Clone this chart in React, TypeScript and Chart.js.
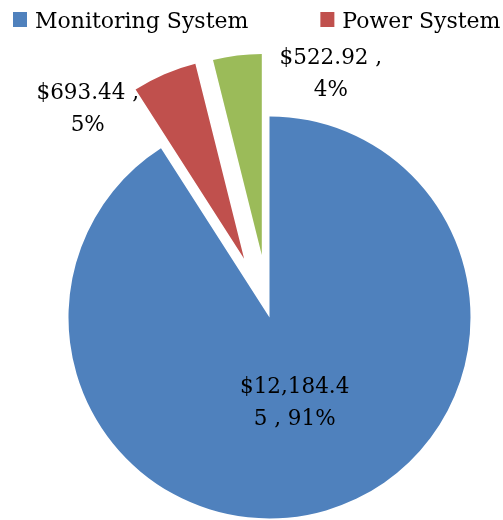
import React, { useEffect, useRef } from 'react';
import { Chart, PieController, ArcElement } from 'chart.js';

Chart.register(PieController, ArcElement);

const categories = ['Monitoring System', 'Power System', 'Other'];
const values = [12184.45, 693.44, 522.92];
const colors = ['#4F81BD', '#C0504D', '#9BBB59'];
const explodePx = [0, 64, 63];

const FONT_FAMILY = '"DejaVu Serif", serif';
const LABEL_SIZE = 21.5;
const LEGEND_SIZE = 22;
const RADIUS = 201;

function fmtMoney(v: number) {
  return '$' + v.toLocaleString('en-US', { minimumFractionDigits: 2, maximumFractionDigits: 2 });
}

function wrap(ctx: CanvasRenderingContext2D, text: string, maxW: number) {
  const words = text.split(' ');
  const lines: string[] = [];
  let cur = '';
  for (const w of words) {
    const trial = cur ? cur + ' ' + w : w;
    if (ctx.measureText(trial).width <= maxW) {
      cur = trial;
      continue;
    }
    if (cur) {
      lines.push(cur);
      cur = '';
    }
    let piece = '';
    for (const ch of w) {
      if (piece && ctx.measureText(piece + ch).width > maxW) {
        lines.push(piece);
        piece = ch;
      } else piece += ch;
    }
    cur = piece;
  }
  if (cur) lines.push(cur);
  return lines;
}

// explode slices: move the slice's vertex outward along its mid angle
const explodeSlices = {
  id: 'explodeSlices',
  afterDatasetUpdate(chart: any, args: any) {
    const meta = chart.getDatasetMeta(args.index);
    meta.data.forEach((arc: any, i: number) => {
      const t = explodePx[i];
      if (!t) return;
      const mid = (arc.startAngle + arc.endAngle) / 2;
      arc.x = arc.x + Math.cos(mid) * t;
      arc.y = arc.y + Math.sin(mid) * t;
    });
  },
};

const dataLabels = {
  id: 'dataLabels',
  afterDatasetsDraw(chart: any) {
    const ctx: CanvasRenderingContext2D = chart.ctx;
    const meta = chart.getDatasetMeta(0);
    const total = values.reduce((a, b) => a + b, 0);
    const place = [
      { turn: 0, dist: 0.445 },
      { turn: -23, dist: 1.075 },
      { turn: 28, dist: 0.96 },
    ];
    ctx.save();
    ctx.font = `${LABEL_SIZE}px ${FONT_FAMILY}`;
    ctx.fillStyle = '#000';
    ctx.textAlign = 'center';
    ctx.textBaseline = 'middle';
    meta.data.forEach((arc: any, i: number) => {
      const mid = (arc.startAngle + arc.endAngle) / 2;
      const p = place[i];
      const a = mid + (p.turn * Math.PI) / 180;
      const cx = arc.x + Math.cos(a) * p.dist * RADIUS;
      const cy = arc.y + Math.sin(a) * p.dist * RADIUS;
      const pct = Math.round((values[i] / total) * 100);
      const text = `${fmtMoney(values[i])} , ${pct}%`;
      const lines = wrap(ctx, text, 117);
      const lh = 32;
      const y0 = cy - ((lines.length - 1) * lh) / 2;
      lines.forEach((ln, k) => ctx.fillText(ln, cx, y0 + k * lh));
    });
    ctx.restore();
  },
};

const topLegend = {
  id: 'topLegend',
  afterDraw(chart: any) {
    const ctx: CanvasRenderingContext2D = chart.ctx;
    ctx.save();
    ctx.font = `${LEGEND_SIZE}px ${FONT_FAMILY}`;
    ctx.textBaseline = 'alphabetic';
    ctx.textAlign = 'left';
    let x = 13;
    categories.forEach((c, i) => {
      ctx.fillStyle = colors[i];
      ctx.fillRect(x, 12, 14, 15);
      ctx.fillStyle = '#000';
      ctx.fillText(c, x + 22, 28);
      x += 22 + ctx.measureText(c).width + 72;
    });
    ctx.restore();
  },
};

export default function App() {
  const ref = useRef<HTMLCanvasElement>(null);
  useEffect(() => {
    if (!ref.current) return;
    const chart = new Chart(ref.current, {
      type: 'pie',
      data: {
        labels: categories,
        datasets: [
          {
            data: values,
            backgroundColor: colors,
            borderWidth: 0,
          },
        ],
      },
      options: {
        responsive: false,
        animation: false,
        radius: RADIUS,
        layout: { padding: { left: 36, right: 0, top: 115, bottom: 0 } },
        events: [],
      },
      plugins: [explodeSlices, dataLabels, topLegend],
    });
    return () => chart.destroy();
  }, []);
  return (
    <div style={{ position: 'absolute', left: 0, top: 0, width: 503, height: 520, background: '#fff' }}>
      <canvas ref={ref} width={503} height={520} style={{ display: 'block' }} />
    </div>
  );
}
